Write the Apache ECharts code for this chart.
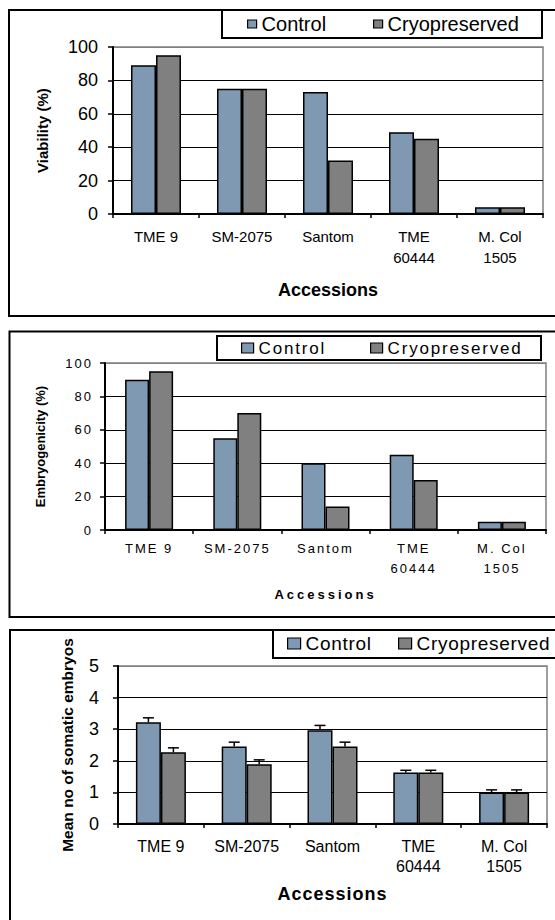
<!DOCTYPE html>
<html><head><meta charset="utf-8">
<script src="https://cdn.jsdelivr.net/npm/echarts@6.0.0/dist/echarts.min.js"></script>
<style>
html,body{margin:0;padding:0;background:#fff;width:555px;height:920px;overflow:hidden;}
.p{position:absolute;left:0;top:0;width:555px;height:920px;}
</style></head><body>
<div id="c1" class="p"></div><div id="c2" class="p"></div><div id="c3" class="p"></div>
<script>
// ---- data ----
const categories = ['TME 9', 'SM-2075', 'Santom', 'TME\n60444', 'M. Col\n1505'];
const seriesNames = ['Control', 'Cryopreserved'];
const xTitle = 'Accessions';

const viabilityTitle = 'Viability (%)';
const viabilityControl = [89, 75, 73, 49, 4];
const viabilityCryo = [95, 75, 32, 45, 4];
const viabilityAxis = [0, 100, 20];

const embryoTitle = 'Embryogenicity (%)';
const embryoControl = [90, 55, 40, 45, 5];
const embryoCryo = [95, 70, 14, 30, 5];
const embryoAxis = [0, 100, 20];

const somaticTitle = 'Mean no of somatic embryos';
const somaticControl = [3.22, 2.45, 2.97, 1.63, 1.0];
const somaticControlErr = [0.14, 0.14, 0.15, 0.07, 0.08];
const somaticCryo = [2.27, 1.89, 2.45, 1.63, 1.0];
const somaticCryoErr = [0.14, 0.14, 0.14, 0.07, 0.08];
const somaticAxis = [0, 5, 1];

// ---- style ----
const FONT = 'Liberation Sans, Arial, Helvetica, sans-serif';
const CTRL = '#7F99B3';
const CRYO = '#808080';

function errorSeries(name, values, errs, sign, barW, cap) {
  return {
    type: 'custom', name: name + ' SE', z: 5,
    data: values.map((v, i) => [i, v, errs[i]]),
    encode: { x: 0, y: 1 },
    renderItem: function (params, api) {
      const i = api.value(0), v = api.value(1), e = api.value(2);
      const base = api.coord([i, v]);
      const top = api.coord([i, v + e]);
      const x = base[0] + sign * barW / 2;
      return { type: 'group', children: [
        { type: 'line', shape: { x1: x, y1: base[1], x2: x, y2: top[1] }, style: { stroke: '#000', lineWidth: 1.5 } },
        { type: 'line', shape: { x1: x - cap, y1: top[1], x2: x + cap, y2: top[1] }, style: { stroke: '#000', lineWidth: 1.5 } }
      ]};
    }
  };
}

function panel(c) {
  const nLines = Math.round((c.axis[1] - c.axis[0]) / c.axis[2]) + 1;
  const splitColors = [];
  for (let k = 0; k < nLines; k++) splitColors.push(k === nLines - 1 ? '#808080' : '#000');
  function legendFor(idx) {
    return {
      data: [seriesNames[idx]], left: c.legendLeft[idx], top: c.legendTop,
      padding: 0, icon: 'rect', selectedMode: false,
      itemWidth: c.iconW, itemHeight: c.iconH,
      textStyle: { color: '#000', fontFamily: FONT, fontSize: c.legendFont, lineHeight: c.legendFont },
      itemStyle: { borderColor: '#000', borderWidth: 1.2 }
    };
  }
  const series = [
    { type: 'bar', name: seriesNames[0], data: c.ctrl, barWidth: c.barW, barGap: '0%',
      itemStyle: { color: CTRL, borderColor: '#000', borderWidth: 1.5 } },
    { type: 'bar', name: seriesNames[1], data: c.cryo, barWidth: c.barW, barGap: '0%',
      itemStyle: { color: CRYO, borderColor: '#000', borderWidth: 1.5 } }
  ];
  if (c.ctrlErr) {
    series.push(errorSeries(seriesNames[0], c.ctrl, c.ctrlErr, -1, c.barW, 5.5));
    series.push(errorSeries(seriesNames[1], c.cryo, c.cryoErr, 1, c.barW, 5.5));
  }
  return {
    animation: false,
    textStyle: { fontFamily: FONT },
    graphic: [
      { type: 'rect', z: 0, shape: { x: c.box[0], y: c.box[1], width: c.box[2], height: c.box[3] },
        style: { fill: 'none', stroke: '#000', lineWidth: 2 } },
      { type: 'rect', z: 1, shape: { x: c.lbox[0], y: c.lbox[1], width: c.lbox[2], height: c.lbox[3] },
        style: { fill: '#fff', stroke: '#000', lineWidth: 2 } }
    ],
    legend: [legendFor(0), legendFor(1)],
    grid: { left: c.grid[0], top: c.grid[1], width: c.grid[2], height: c.grid[3],
      show: true, borderColor: '#808080', borderWidth: 1.5, backgroundColor: 'transparent' },
    xAxis: {
      type: 'category', data: categories,
      axisLine: { lineStyle: { color: '#000', width: 2 } },
      axisTick: { show: true, length: 4, lineStyle: { color: '#000', width: 1.5 } },
      axisLabel: { interval: 0, color: '#000', fontFamily: FONT, fontSize: c.catFont, lineHeight: c.catLH, margin: c.catMargin },
      name: xTitle, nameLocation: 'middle', nameGap: c.xNameGap,
      nameTextStyle: { color: '#000', fontFamily: FONT, fontWeight: 'bold', fontSize: c.xNameFont, lineHeight: c.xNameFont }
    },
    yAxis: {
      type: 'value', min: c.axis[0], max: c.axis[1], interval: c.axis[2],
      axisLine: { show: true, lineStyle: { color: '#000', width: 2 } },
      axisTick: { show: true, length: 5, lineStyle: { color: '#000', width: 1.5 } },
      splitLine: { show: true, lineStyle: { color: splitColors, width: 1 } },
      axisLabel: { color: '#000', fontFamily: FONT, fontSize: c.yFont, margin: c.yMargin },
      name: c.yTitle, nameLocation: 'middle', nameGap: c.yNameGap,
      nameTextStyle: { color: '#000', fontFamily: FONT, fontWeight: 'bold', fontSize: c.yNameFont, lineHeight: c.yNameFont }
    },
    series: series
  };
}

const cfg1 = {
  ctrl: viabilityControl, cryo: viabilityCryo, axis: viabilityAxis, yTitle: viabilityTitle,
  box: [9, 10, 560, 306], lbox: [222, 10, 320, 28],
  legendLeft: [247, 373], legendTop: 14, legendFont: 20, iconW: 9, iconH: 8,
  grid: [113, 47, 430, 167], barW: 25,
  catFont: 15, catLH: 21, catMargin: 12,
  xNameGap: 67, xNameFont: 18,
  yFont: 18, yMargin: 15, yNameGap: 63, yNameFont: 15
};
const cfg2 = {
  ctrl: embryoControl, cryo: embryoCryo, axis: embryoAxis, yTitle: embryoTitle,
  box: [9.5, 331.5, 560, 285.5], lbox: [217, 336, 324, 24],
  legendLeft: [241, 370], legendTop: 339.5, legendFont: 17, iconW: 12, iconH: 10,
  grid: [105, 363, 441, 167], barW: 24,
  catFont: 13, catLH: 20, catMargin: 8,
  xNameGap: 58, xNameFont: 13,
  yFont: 13, yMargin: 12, yNameGap: 58, yNameFont: 13
};
const cfg3 = {
  ctrl: somaticControl, cryo: somaticCryo, ctrlErr: somaticControlErr, cryoErr: somaticCryoErr,
  axis: somaticAxis, yTitle: somaticTitle,
  box: [10, 630, 560, 300], lbox: [273, 630, 300, 28],
  legendLeft: [287, 398], legendTop: 634, legendFont: 19, iconW: 13, iconH: 11,
  grid: [118, 666, 429, 158], barW: 25,
  catFont: 16, catLH: 20.5, catMargin: 12,
  xNameGap: 61, xNameFont: 18,
  yFont: 18, yMargin: 19, yNameGap: 43, yNameFont: 15.5
};

const spacing2 = function (txt) {
  if (txt === xTitle) return 3;
  if (txt === embryoTitle) return 0;
  if (txt === seriesNames[0] || txt === seriesNames[1]) return 1.8;
  return 2;
};
const spacing3 = function (txt) {
  if (txt === xTitle) return 1;
  if (txt === seriesNames[0] || txt === seriesNames[1]) return 0.7;
  return null;
};

function applySpacing(chart, fn) {
  chart.getDom().querySelectorAll('text').forEach(function (t) {
    const s = fn(t.textContent);
    if (s != null) t.setAttribute('letter-spacing', s);
  });
}

const charts = [];
[[cfg1, 'c1', null], [cfg2, 'c2', spacing2], [cfg3, 'c3', spacing3]].forEach(function (p) {
  const ch = echarts.init(document.getElementById(p[1]), null, { renderer: 'svg', width: 555, height: 920 });
  ch.setOption(panel(p[0]));
  if (p[2]) {
    const f = p[2];
    ch.on('finished', function () { applySpacing(ch, f); });
    applySpacing(ch, f);
    setTimeout(function () { applySpacing(ch, f); }, 30);
    setTimeout(function () { applySpacing(ch, f); }, 200);
  }
  charts.push(ch);
});
</script>
</body></html>
